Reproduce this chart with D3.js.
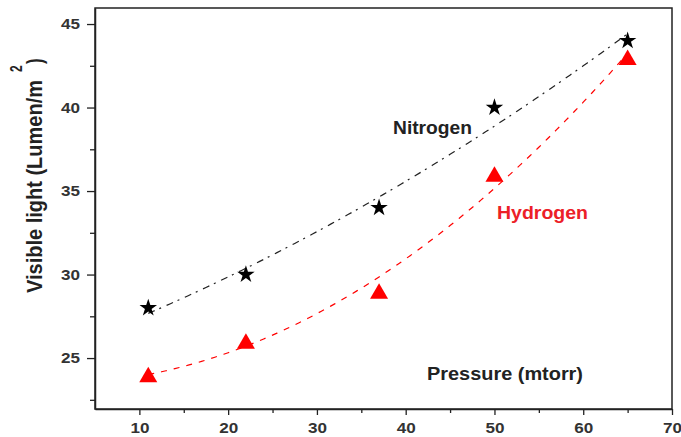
<!DOCTYPE html>
<html>
<head>
<meta charset="utf-8">
<script src="https://cdn.jsdelivr.net/npm/d3@7/dist/d3.min.js"></script>
<style>
  body { margin: 0; background: #fff; }
  text { font-family: "Liberation Sans", Arial, sans-serif; font-weight: bold; }
</style>
</head>
<body>
<script>
// pressure (mtorr)
const pressure = [11, 22, 37, 50, 65];
// visible light (Lumen/m2)
const nitrogen = [28, 30, 34, 40, 44];
const hydrogen = [24, 26, 29, 36, 43];

const xTicks = [10, 20, 30, 40, 50, 60, 70];
const xMinor = [15, 25, 35, 45, 55, 65];
const yTicks = [25, 30, 35, 40, 45];
const yMinor = [22.5, 27.5, 32.5, 37.5, 42.5];

const W = 681, H = 437;
const margin = {top: 8, right: 9, bottom: 28, left: 95};
const width = W - margin.left - margin.right,
      height = H - margin.top - margin.bottom;

const svg = d3.select("body").append("svg")
  .attr("width", W).attr("height", H);

const g = svg.append("g")
  .attr("transform", "translate(" + margin.left + "," + margin.top + ")");

const x = d3.scaleLinear().domain([5, 70]).range([0, width]);
const y = d3.scaleLinear().domain([21.95, 45.96]).range([height, 0]);

// quadratic least squares fit (the dashed fit curves)
function quadFit(xs, ys) {
  let n = xs.length, s = [0,0,0,0,0], t = [0,0,0];
  for (let i = 0; i < n; i++) {
    let p = 1;
    for (let k = 0; k < 5; k++) { s[k] += p; if (k < 3) t[k] += p * ys[i]; p *= xs[i]; }
  }
  const A = [[s[0],s[1],s[2],t[0]],[s[1],s[2],s[3],t[1]],[s[2],s[3],s[4],t[2]]];
  for (let i = 0; i < 3; i++) {
    for (let j = i + 1; j < 3; j++) {
      const f = A[j][i] / A[i][i];
      for (let k = i; k < 4; k++) A[j][k] -= f * A[i][k];
    }
  }
  const c = [0,0,0];
  for (let i = 2; i >= 0; i--) {
    let v = A[i][3];
    for (let k = i + 1; k < 3; k++) v -= A[i][k] * c[k];
    c[i] = v / A[i][i];
  }
  return xv => c[0] + c[1] * xv + c[2] * xv * xv;
}

// frame
g.append("rect").attr("width", width).attr("height", height)
  .attr("fill", "none").attr("stroke", "#222").attr("stroke-width", 1.5);

// axes
g.append("g").attr("transform", "translate(0," + height + ")")
  .call(d3.axisBottom(x).tickValues(xTicks).tickSize(6).tickSizeOuter(0).tickPadding(8));
g.append("g").attr("transform", "translate(0," + height + ")")
  .call(d3.axisBottom(x).tickValues(xMinor).tickSize(4).tickFormat(""))
  .select(".domain").remove();

g.append("g")
  .call(d3.axisLeft(y).tickValues(yTicks).tickSize(8).tickSizeOuter(0).tickPadding(7));
g.append("g")
  .call(d3.axisLeft(y).tickValues(yMinor).tickSize(5).tickFormat(""))
  .select(".domain").remove();

g.selectAll(".tick line").attr("stroke", "#222").attr("stroke-width", 1.3);
g.selectAll(".domain").attr("stroke", "#222").attr("stroke-width", 1.5);
g.selectAll(".tick text").attr("fill", "#333")
  .attr("textLength", 19).attr("lengthAdjust", "spacingAndGlyphs")
  .style("font-size", "14px").style("font-family", "Liberation Sans, Arial, sans-serif")
  .style("font-weight", "bold");

// fit curves
const fitX = d3.range(pressure[0], pressure[pressure.length - 1] + 0.01, 0.5);
const fN = quadFit(pressure, nitrogen), fH = quadFit(pressure, hydrogen);
const line = f => d3.line().x(d => x(d)).y(d => y(f(d)));

g.append("path").datum(fitX).attr("d", line(fN))
  .attr("fill", "none").attr("stroke", "#222").attr("stroke-width", 1.2)
  .attr("stroke-dasharray", "7,5,2,6");
g.append("path").datum(fitX).attr("d", line(fH))
  .attr("fill", "none").attr("stroke", "#f00").attr("stroke-width", 1.2)
  .attr("stroke-dasharray", "6,7");

// markers
g.selectAll(".star").data(pressure).enter().append("path")
  .attr("d", d3.symbol().type(d3.symbolStar).size(95))
  .attr("transform", (d, i) => "translate(" + x(d) + "," + y(nitrogen[i]) + ")")
  .attr("fill", "#000");

g.selectAll(".tri").data(pressure).enter().append("path")
  .attr("d", "M0,-8L9,7.5L-9,7.5Z")
  .attr("transform", (d, i) => "translate(" + x(d) + "," + y(hydrogen[i]) + ")")
  .attr("fill", "#f00");

// labels
function label(tx, ty, txt, len, col) {
  svg.append("text").attr("x", tx).attr("y", ty).attr("fill", col)
    .attr("textLength", len).attr("lengthAdjust", "spacingAndGlyphs")
    .style("font-size", "18px").text(txt);
}
label(393, 134, "Nitrogen", 79, "#222");
label(497, 219, "Hydrogen", 91, "#ec2027");
label(427, 380, "Pressure (mtorr)", 156, "#222");

// y axis title, rotated
svg.append("text")
  .attr("transform", "translate(42,293) scale(1.3,1) rotate(-90)")
  .attr("textLength", 213).attr("lengthAdjust", "spacingAndGlyphs")
  .attr("fill", "#222").style("font-size", "17px")
  .text("Visible light (Lumen/m");
svg.append("text")
  .attr("transform", "translate(22,72) scale(1.3,1) rotate(-90)")
  .attr("fill", "#222").style("font-size", "12px")
  .text("2");
svg.append("text")
  .attr("transform", "translate(42,64) scale(1.3,1) rotate(-90)")
  .attr("fill", "#222").style("font-size", "17px")
  .text(")");
</script>
</body>
</html>
